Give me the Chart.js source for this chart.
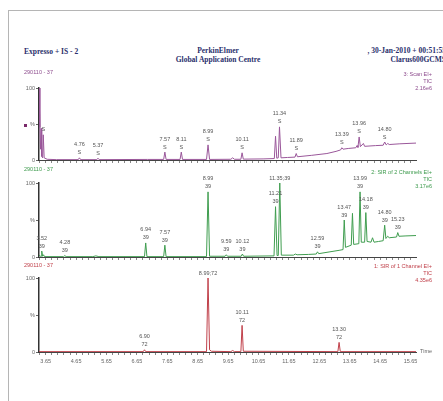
<!DOCTYPE html>
<html>
<head>
<meta charset="utf-8">
<script src="https://cdn.jsdelivr.net/npm/chart.js@4.4.0/dist/chart.umd.min.js"></script>
<style>
  body { margin: 0; width: 443px; height: 401px; background: #fff; overflow: hidden; position: relative; font-family: "Liberation Sans", Arial, sans-serif; }
  canvas { position: absolute; left: 0; }
  .frame { position: absolute; left: 8px; top: 10px; width: 450px; height: 400px; border-left: 1px solid #b5b5b5; border-top: 1px solid #b5b5b5; }
  .hdr { position: absolute; font-family: "Liberation Serif", "DejaVu Serif", serif; font-weight: bold; font-size: 7.5px; color: #2a2f6c; line-height: 9px; white-space: nowrap; }
  .lbl { position: absolute; font-size: 5.5px; line-height: 7px; white-space: nowrap; z-index: 2; }
  .right { text-align: right; right: 11px; }
</style>
</head>
<body>
<div class="frame"></div>

<div class="hdr" style="left:24px; top:47px;">Expresso + IS - 2</div>
<div class="hdr" style="left:118px; width:200px; text-align:center; top:46px;">PerkinElmer<br>Global Application Centre</div>
<div class="hdr" style="right:-3px; text-align:right; top:46px;">, 30-Jan-2010 + 00:51:55<br>Clarus600GCMS</div>

<div class="lbl" style="left:24px; top:69px; color:#8c4a8c;">290110 - 37</div>
<div class="lbl right" style="top:71px; color:#8c4a8c;">3: Scan EI+<br>TIC<br>2.16e6</div>
<div style="position:absolute; left:24px; top:124px; width:3px; height:3px; background:#7a2a6a;"></div>

<div class="lbl" style="left:24px; top:166px; color:#3c9a4c;">290110 - 37</div>
<div class="lbl right" style="top:169px; color:#3c9a4c;">2: SIR of 2 Channels EI+<br>TIC<br>3.17e6</div>

<div class="lbl" style="left:24px; top:262px; color:#c0404a;">290110 - 37</div>
<div class="lbl right" style="top:263px; color:#c0404a;">1: SIR of 1 Channel EI+<br>TIC<br>4.35e6</div>

<div class="lbl" style="left:420px; top:348px; color:#666;">Time</div>

<canvas id="scan" width="443" height="94" style="top:72px"></canvas>
<canvas id="sir39" width="443" height="96" style="top:167px"></canvas>
<canvas id="sir72" width="443" height="110" style="top:262px"></canvas>

<script>
// retention time axis (min)
const xMin = 3.43
const xMax = 15.83
const xTickLabels = ['3.65', '4.65', '5.65', '6.65', '7.65', '8.65', '9.65', '10.65', '11.65', '12.65', '13.65', '14.65', '15.65']

// 3: Scan EI+ TIC
const scanTimes = [3.43, 3.46, 3.48, 3.50, 3.52, 3.55, 3.57, 3.60, 3.70, 4.00, 4.72, 4.76, 4.80, 5.33, 5.37, 5.41, 7.00,
    7.53, 7.57, 7.61, 8.07, 8.11, 8.15, 8.94, 8.99, 9.04, 9.74, 9.80, 9.86, 10.07, 10.11, 10.15, 10.80,
    11.17, 11.21, 11.25, 11.30, 11.34, 11.39, 11.60, 11.85, 11.89, 11.93, 12.40, 12.90, 13.20,
    13.35, 13.39, 13.43, 13.60, 13.85, 13.89, 13.92, 13.96, 14.00, 14.10, 14.14, 14.50,
    14.75, 14.80, 14.85, 14.90, 14.95, 15.30, 15.83]
const scanValues = [100, 45, 15, 44, 5, 3, 35, 3, 1, 0.5, 0.5, 3, 0.5, 0.5, 2.5, 0.5, 0.8,
    0.8, 11, 0.8, 0.8, 11, 0.8, 0.8, 21, 0.8, 1, 3, 1, 1, 10, 1.2, 1.5,
    2, 33, 2.5, 3, 46, 3, 3.5, 4, 9, 4.5, 6.5, 9, 12,
    14, 17, 15, 16, 17, 20, 17.5, 32, 18.5, 23, 19, 20,
    20.5, 25, 21, 23, 21.5, 22.5, 23.5]
const scanPeakTimes = [3.57, 4.76, 5.37, 7.57, 8.11, 8.99, 10.11, 11.34, 11.89, 13.39, 13.96, 14.80]
const scanPeakHeights = [35, 3, 2.5, 11, 11, 21, 10, 46, 9, 17, 32, 25]
const scanPeakText = ['', '4.76', '5.37', '7.57', '8.11', '8.99', '10.11', '11.34', '11.89', '13.39', '13.96', '14.80']
const scanPeakIon = ['S', 'S', 'S', 'S', 'S', 'S', 'S', 'S', 'S', 'S', 'S', 'S']

// 2: SIR of 2 Channels EI+ TIC
const sir39Times = [3.43, 3.47, 3.50, 3.52, 3.55, 3.58, 3.61, 4.24, 4.28, 4.32, 5.20, 5.30, 5.40,
    6.90, 6.94, 6.98, 7.53, 7.57, 7.61, 8.94, 8.99, 9.04, 9.55, 9.59, 9.63, 10.08, 10.12, 10.16,
    11.16, 11.21, 11.26, 11.30, 11.35, 11.40, 11.80, 11.86, 11.92, 12.30, 12.55, 12.59, 12.63, 13.00, 13.30,
    13.43, 13.47, 13.51, 13.70, 13.74, 13.78, 13.95, 13.99, 14.03, 14.14, 14.18, 14.22, 14.35, 14.40, 14.45, 14.60,
    14.75, 14.80, 14.84, 14.90, 14.95, 15.19, 15.23, 15.27, 15.50, 15.83]
const sir39Values = [3, 1, 1, 8, 1, 3, 0.5, 0.5, 2, 0.5, 0.5, 1.5, 0.5,
    0.5, 19, 0.5, 0.5, 16, 0.5, 0.5, 88, 1, 1, 3, 1, 1, 4, 1,
    1.5, 68, 2, 2, 100, 2.5, 2.5, 4, 3, 3.5, 4, 7, 4.5, 7, 9,
    10, 50, 13, 16, 59, 17, 18, 88, 20, 20, 60, 21, 20, 26, 20, 21,
    22, 43, 25, 28, 26, 27, 33, 28, 28.5, 29]
const sir39PeakTimes = [3.52, 4.28, 6.94, 7.57, 8.99, 9.59, 10.12, 11.21, 11.35, 12.59, 13.47, 13.99, 14.18, 14.80, 15.23]
const sir39PeakHeights = [8, 2, 19, 16, 88, 3, 4, 68, 100, 7, 50, 88, 60, 43, 33]
const sir39PeakText = ['3.52', '4.28', '6.94', '7.57', '8.99', '9.59', '10.12', '11.21', '11.35;39', '12.59', '13.47', '13.99', '14.18', '14.80', '15.23']
const sir39PeakIon = ['39', '39', '39', '39', '39', '39', '39', '39', '', '39', '39', '39', '39', '39', '39']

// 1: SIR of 1 Channel EI+ TIC
const sir72Times = [3.43, 6.86, 6.90, 6.94, 8.94, 8.99, 9.04, 9.10, 9.74, 9.80, 9.86, 10.07, 10.11, 10.15, 13.26, 13.30, 13.34, 15.83]
const sir72Values = [0.5, 0.5, 3, 0.5, 0.5, 100, 3, 1, 0.5, 2, 0.5, 0.5, 36, 1, 0.5, 13, 0.5, 0.5]
const sir72PeakTimes = [6.90, 8.99, 10.11, 13.30]
const sir72PeakHeights = [3, 100, 36, 13]
const sir72PeakText = ['6.90', '8.99;72', '10.11', '13.30']
const sir72PeakIon = ['72', '', '72', '72']

const peakLabels = {
    id: 'peakLabels',
    afterDatasetsDraw(chart, args, opts) {
        const c = chart.ctx
        const x = chart.scales.x
        const y = chart.scales.y
        c.save()
        c.font = '5.5px "Liberation Sans", Arial, sans-serif'
        c.fillStyle = '#555'
        c.textAlign = 'center'
        c.textBaseline = 'middle'
        opts.times.forEach((t, i) => {
            const px = x.getPixelForValue(t)
            const py = y.getPixelForValue(opts.heights[i])
            if (opts.ions[i]) {
                c.fillText(opts.ions[i], px, py - 5)
                c.fillText(opts.text[i], px, py - 13)
            } else {
                c.fillText(opts.text[i], px, py - 5)
            }
        })
        c.restore()
    }
}

const makeChart = (id, times, values, color, peaks, showTime) => {
    return new Chart(document.getElementById(id), {
        type: 'line',
        data: {
            datasets: [{
                data: times.map((t, i) => ({x: t, y: values[i]})),
                borderColor: color,
                borderWidth: 1,
                pointRadius: 0,
                tension: 0
            }]
        },
        options: {
            responsive: false,
            animation: false,
            devicePixelRatio: 1,
            layout: { padding: { top: 16, right: 27, left: 0, bottom: 0 } },
            plugins: {
                legend: { display: false },
                tooltip: { enabled: false },
                peakLabels: peaks
            },
            scales: {
                x: {
                    type: 'linear',
                    min: xMin,
                    max: xMax,
                    afterBuildTicks: (s) => {
                        const ticks = []
                        for (let v = 3.45; v <= xMax; v += 0.2) ticks.push({value: Math.round(v * 100) / 100})
                        s.ticks = ticks
                    },
                    afterFit: (s) => { s.height = showTime ? 20 : 6 },
                    border: { display: true, color: '#444', width: 1 },
                    grid: { drawOnChartArea: false, drawTicks: true, tickLength: 3, color: '#888' },
                    ticks: {
                        display: showTime,
                        autoSkip: false,
                        maxRotation: 0,
                        padding: 3,
                        color: '#666',
                        font: { size: 5.5, family: '"Liberation Sans", Arial, sans-serif' },
                        callback: (v) => {
                            const s = v.toFixed(2)
                            return xTickLabels.includes(s) ? s : ''
                        }
                    }
                },
                y: {
                    min: 0,
                    max: 100,
                    afterBuildTicks: (s) => { s.ticks = [{value: 0}, {value: 50}, {value: 100}] },
                    afterFit: (s) => { s.width = 39 },
                    border: { display: true, color: '#333', width: 1.5 },
                    grid: { drawOnChartArea: false, drawTicks: true, tickLength: 3, color: '#666' },
                    ticks: {
                        padding: 1,
                        color: '#666',
                        font: { size: 5.5, family: '"Liberation Sans", Arial, sans-serif' },
                        callback: (v) => v === 50 ? '%' : String(v)
                    }
                }
            }
        },
        plugins: [peakLabels]
    })
}

makeChart('scan', scanTimes, scanValues, '#9a579a',
    {times: scanPeakTimes, heights: scanPeakHeights, text: scanPeakText, ions: scanPeakIon}, false)
makeChart('sir39', sir39Times, sir39Values, '#3f9d4f',
    {times: sir39PeakTimes, heights: sir39PeakHeights, text: sir39PeakText, ions: sir39PeakIon}, false)
makeChart('sir72', sir72Times, sir72Values, '#c0404a',
    {times: sir72PeakTimes, heights: sir72PeakHeights, text: sir72PeakText, ions: sir72PeakIon}, true)
</script>
</body>
</html>
